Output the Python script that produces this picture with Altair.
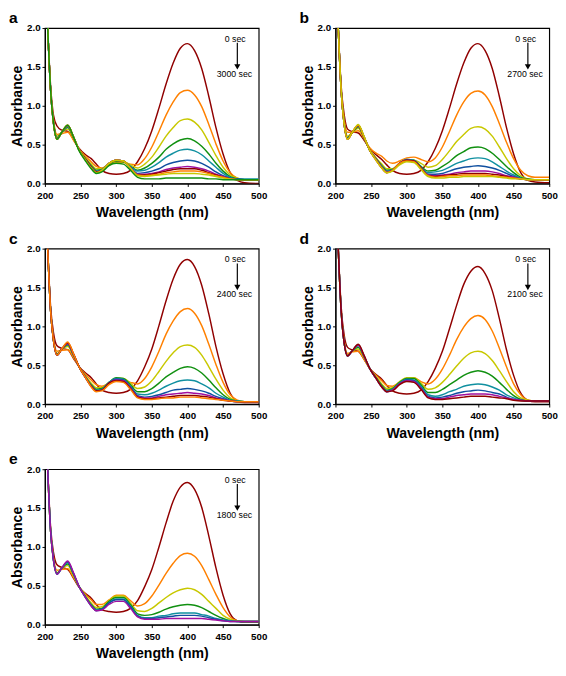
import altair as alt
import pandas as pd

WL = [203, 208, 212, 217, 223, 232, 240, 248, 257, 265, 272, 280, 290, 300, 310,
      320, 330, 340, 350, 360, 370, 380, 390, 400, 410, 420, 430, 440, 450, 460,
      470, 480, 500]

# Curve colour cycle (SigmaPlot-like), time step between spectra in seconds
COLORS = ["#900000", "#FF8000", "#C8C800", "#109010", "#1090A0", "#1050A0", "#A010A0"]
TIME_STEP = 300

LETTERS = ["a", "b", "c", "d", "e"]
START_LABEL = "0 sec"
END_LABELS = ["3000 sec", "2700 sec", "2400 sec", "2100 sec", "1800 sec"]
X_TICKS = [200, 250, 300, 350, 400, 450, 500]
Y_TICKS = [0.0, 0.5, 1.0, 1.5, 2.0]

SPEC_A = [
    [2.2,1.25,0.88,0.74,0.69,0.67,0.57,0.45,0.37,0.32,0.25,0.17,0.13,0.12,0.13,0.17,0.28,0.45,0.68,0.97,1.28,1.55,1.74,1.80,1.71,1.48,1.12,0.72,0.38,0.14,0.04,0.01,0.0],
    [2.2,1.2,0.82,0.63,0.64,0.66,0.56,0.44,0.35,0.28,0.22,0.20,0.24,0.27,0.27,0.25,0.24,0.32,0.47,0.67,0.88,1.05,1.17,1.20,1.14,0.99,0.76,0.51,0.29,0.14,0.07,0.05,0.05],
    [2.2,1.2,0.80,0.61,0.65,0.70,0.58,0.44,0.33,0.25,0.19,0.19,0.25,0.28,0.28,0.24,0.20,0.25,0.34,0.47,0.61,0.72,0.81,0.83,0.79,0.69,0.53,0.36,0.21,0.11,0.07,0.05,0.05],
    [2.2,1.2,0.79,0.59,0.65,0.72,0.59,0.43,0.32,0.23,0.17,0.18,0.25,0.29,0.28,0.22,0.17,0.20,0.26,0.34,0.44,0.51,0.56,0.58,0.55,0.48,0.38,0.26,0.16,0.09,0.06,0.05,0.05],
    [2.2,1.2,0.78,0.58,0.65,0.73,0.60,0.43,0.31,0.22,0.16,0.18,0.26,0.30,0.29,0.22,0.16,0.17,0.21,0.27,0.34,0.39,0.43,0.44,0.42,0.37,0.29,0.21,0.13,0.08,0.06,0.06,0.06],
    [2.2,1.2,0.78,0.58,0.65,0.74,0.60,0.43,0.31,0.21,0.15,0.17,0.26,0.30,0.29,0.21,0.13,0.14,0.16,0.19,0.24,0.27,0.29,0.30,0.29,0.26,0.21,0.15,0.10,0.07,0.06,0.05,0.05],
    [2.2,1.2,0.78,0.57,0.65,0.74,0.60,0.43,0.31,0.21,0.15,0.17,0.26,0.30,0.29,0.20,0.12,0.12,0.13,0.15,0.18,0.20,0.21,0.22,0.21,0.19,0.16,0.12,0.09,0.06,0.05,0.05,0.05],
    [2.2,1.2,0.78,0.57,0.65,0.75,0.60,0.43,0.31,0.21,0.15,0.17,0.26,0.30,0.29,0.20,0.11,0.11,0.12,0.14,0.16,0.18,0.19,0.19,0.19,0.17,0.14,0.11,0.08,0.06,0.05,0.05,0.05],
    [2.2,1.2,0.78,0.57,0.65,0.75,0.60,0.43,0.30,0.20,0.14,0.17,0.26,0.30,0.29,0.20,0.11,0.10,0.11,0.12,0.14,0.15,0.16,0.16,0.16,0.15,0.13,0.10,0.08,0.06,0.05,0.05,0.05],
    [2.2,1.2,0.78,0.57,0.65,0.75,0.60,0.43,0.30,0.20,0.14,0.17,0.26,0.30,0.29,0.20,0.10,0.09,0.10,0.11,0.12,0.13,0.13,0.13,0.13,0.12,0.11,0.09,0.07,0.06,0.05,0.05,0.05],
    [2.2,1.2,0.78,0.57,0.65,0.75,0.60,0.42,0.29,0.19,0.13,0.15,0.23,0.26,0.25,0.17,0.08,0.06,0.06,0.06,0.07,0.07,0.07,0.07,0.07,0.07,0.06,0.06,0.05,0.05,0.05,0.05,0.05],
]

SPEC_B = [
    [2.2,1.25,0.90,0.70,0.67,0.65,0.56,0.45,0.37,0.31,0.24,0.17,0.13,0.12,0.13,0.17,0.28,0.45,0.68,0.97,1.28,1.55,1.74,1.80,1.71,1.48,1.12,0.72,0.38,0.14,0.04,0.02,0.01],
    [2.2,1.2,0.84,0.66,0.66,0.68,0.58,0.46,0.39,0.35,0.29,0.26,0.29,0.33,0.34,0.31,0.28,0.33,0.47,0.67,0.88,1.05,1.16,1.19,1.14,0.99,0.77,0.53,0.32,0.17,0.10,0.08,0.08],
    [2.2,1.2,0.80,0.61,0.65,0.71,0.58,0.44,0.33,0.25,0.19,0.19,0.26,0.30,0.30,0.26,0.21,0.23,0.31,0.42,0.54,0.63,0.71,0.73,0.70,0.61,0.47,0.32,0.19,0.10,0.06,0.05,0.05],
    [2.2,1.2,0.79,0.59,0.65,0.73,0.59,0.43,0.32,0.23,0.17,0.18,0.26,0.31,0.30,0.22,0.16,0.17,0.22,0.28,0.36,0.41,0.46,0.47,0.45,0.39,0.31,0.22,0.14,0.08,0.06,0.05,0.05],
    [2.2,1.2,0.78,0.58,0.65,0.74,0.60,0.43,0.31,0.22,0.16,0.18,0.26,0.31,0.30,0.21,0.14,0.15,0.17,0.21,0.26,0.29,0.32,0.33,0.32,0.28,0.22,0.16,0.11,0.07,0.05,0.05,0.05],
    [2.2,1.2,0.78,0.58,0.65,0.74,0.60,0.43,0.31,0.21,0.15,0.17,0.26,0.30,0.29,0.20,0.12,0.12,0.13,0.16,0.19,0.21,0.22,0.23,0.22,0.20,0.17,0.13,0.09,0.06,0.05,0.05,0.05],
    [2.2,1.2,0.78,0.57,0.65,0.75,0.60,0.43,0.31,0.21,0.15,0.17,0.26,0.30,0.29,0.20,0.11,0.10,0.11,0.12,0.14,0.15,0.16,0.16,0.16,0.15,0.13,0.10,0.08,0.06,0.05,0.05,0.05],
    [2.2,1.2,0.78,0.57,0.65,0.75,0.60,0.43,0.30,0.20,0.14,0.17,0.26,0.30,0.29,0.20,0.10,0.09,0.10,0.11,0.12,0.13,0.13,0.13,0.13,0.12,0.11,0.09,0.07,0.06,0.05,0.05,0.05],
    [2.2,1.2,0.78,0.57,0.65,0.75,0.60,0.43,0.30,0.20,0.14,0.17,0.26,0.29,0.28,0.19,0.10,0.08,0.09,0.10,0.10,0.11,0.11,0.11,0.11,0.10,0.09,0.08,0.07,0.06,0.05,0.05,0.05],
    [2.2,1.2,0.78,0.57,0.65,0.76,0.61,0.43,0.30,0.20,0.14,0.16,0.24,0.28,0.27,0.18,0.09,0.07,0.07,0.08,0.08,0.09,0.09,0.09,0.09,0.09,0.08,0.07,0.06,0.06,0.05,0.05,0.05],
]

SPEC_C = [
    [2.2,1.25,0.92,0.75,0.72,0.70,0.59,0.48,0.40,0.34,0.26,0.18,0.15,0.14,0.15,0.19,0.30,0.48,0.71,1.01,1.33,1.61,1.80,1.86,1.77,1.53,1.16,0.74,0.39,0.14,0.04,0.02,0.02],
    [2.2,1.2,0.85,0.68,0.69,0.70,0.60,0.48,0.38,0.31,0.25,0.23,0.27,0.31,0.31,0.28,0.26,0.33,0.48,0.68,0.90,1.07,1.19,1.23,1.17,1.01,0.77,0.51,0.28,0.12,0.05,0.03,0.03],
    [2.2,1.2,0.83,0.65,0.70,0.74,0.62,0.48,0.36,0.27,0.21,0.21,0.28,0.33,0.33,0.27,0.20,0.22,0.30,0.42,0.55,0.66,0.74,0.76,0.73,0.63,0.48,0.32,0.18,0.08,0.04,0.03,0.03],
    [2.2,1.2,0.82,0.64,0.70,0.76,0.63,0.48,0.35,0.25,0.19,0.20,0.28,0.34,0.33,0.25,0.16,0.16,0.20,0.27,0.35,0.41,0.46,0.48,0.46,0.40,0.31,0.21,0.12,0.06,0.04,0.03,0.03],
    [2.2,1.2,0.82,0.63,0.70,0.77,0.64,0.48,0.35,0.24,0.18,0.19,0.28,0.33,0.32,0.23,0.13,0.12,0.14,0.18,0.23,0.27,0.30,0.31,0.30,0.26,0.21,0.14,0.09,0.05,0.04,0.03,0.03],
    [2.2,1.2,0.82,0.63,0.70,0.78,0.64,0.48,0.34,0.23,0.17,0.18,0.27,0.32,0.31,0.22,0.11,0.09,0.10,0.12,0.15,0.18,0.19,0.20,0.19,0.17,0.14,0.10,0.07,0.04,0.03,0.03,0.03],
    [2.2,1.2,0.82,0.63,0.70,0.78,0.64,0.48,0.34,0.23,0.17,0.18,0.27,0.31,0.30,0.21,0.10,0.08,0.08,0.10,0.12,0.13,0.14,0.15,0.14,0.13,0.11,0.08,0.06,0.04,0.03,0.03,0.03],
    [2.2,1.2,0.82,0.63,0.70,0.79,0.65,0.48,0.34,0.23,0.17,0.18,0.27,0.30,0.29,0.20,0.09,0.07,0.07,0.08,0.09,0.10,0.11,0.11,0.11,0.10,0.09,0.07,0.05,0.04,0.03,0.03,0.03],
    [2.2,1.2,0.82,0.63,0.70,0.80,0.65,0.48,0.34,0.22,0.16,0.17,0.25,0.29,0.28,0.19,0.08,0.06,0.06,0.07,0.08,0.08,0.09,0.09,0.09,0.08,0.07,0.06,0.05,0.04,0.03,0.03,0.03],
]

SPEC_D = [
    [2.2,1.25,0.90,0.73,0.70,0.68,0.58,0.46,0.38,0.32,0.24,0.17,0.14,0.13,0.14,0.18,0.29,0.46,0.68,0.97,1.27,1.54,1.71,1.77,1.68,1.46,1.10,0.70,0.37,0.14,0.05,0.03,0.03],
    [2.2,1.2,0.83,0.65,0.67,0.68,0.58,0.46,0.37,0.30,0.24,0.23,0.28,0.33,0.34,0.29,0.26,0.32,0.45,0.63,0.83,0.99,1.10,1.14,1.09,0.94,0.72,0.48,0.26,0.12,0.05,0.04,0.04],
    [2.2,1.2,0.81,0.63,0.68,0.71,0.60,0.46,0.35,0.26,0.20,0.21,0.29,0.34,0.34,0.27,0.19,0.21,0.28,0.38,0.49,0.59,0.66,0.68,0.65,0.56,0.43,0.29,0.16,0.08,0.05,0.04,0.04],
    [2.2,1.2,0.80,0.62,0.68,0.73,0.61,0.46,0.34,0.24,0.18,0.20,0.28,0.33,0.33,0.25,0.15,0.15,0.19,0.25,0.31,0.37,0.41,0.43,0.41,0.36,0.28,0.19,0.11,0.06,0.04,0.04,0.04],
    [2.2,1.2,0.80,0.62,0.68,0.75,0.62,0.46,0.33,0.23,0.17,0.19,0.27,0.32,0.31,0.23,0.12,0.10,0.12,0.16,0.19,0.23,0.25,0.26,0.25,0.22,0.18,0.12,0.08,0.05,0.04,0.04,0.04],
    [2.2,1.2,0.80,0.62,0.68,0.76,0.62,0.46,0.33,0.22,0.16,0.18,0.26,0.31,0.30,0.21,0.10,0.08,0.09,0.11,0.14,0.16,0.17,0.18,0.17,0.15,0.13,0.09,0.06,0.05,0.04,0.04,0.04],
    [2.2,1.2,0.80,0.62,0.68,0.76,0.62,0.46,0.33,0.22,0.16,0.18,0.26,0.30,0.29,0.20,0.09,0.07,0.07,0.09,0.11,0.12,0.13,0.13,0.13,0.12,0.10,0.08,0.06,0.05,0.04,0.04,0.04],
    [2.2,1.2,0.80,0.62,0.68,0.77,0.63,0.46,0.33,0.22,0.16,0.17,0.25,0.29,0.28,0.19,0.08,0.06,0.06,0.07,0.08,0.09,0.10,0.10,0.10,0.09,0.08,0.07,0.05,0.04,0.04,0.04,0.04],
]

SPEC_E = [
    [2.2,1.25,0.93,0.77,0.74,0.71,0.60,0.48,0.40,0.34,0.26,0.19,0.17,0.16,0.17,0.21,0.31,0.49,0.71,1.00,1.31,1.59,1.77,1.83,1.74,1.51,1.14,0.73,0.38,0.14,0.05,0.03,0.03],
    [2.2,1.2,0.86,0.70,0.71,0.72,0.61,0.49,0.39,0.32,0.26,0.26,0.32,0.38,0.38,0.31,0.24,0.27,0.37,0.51,0.66,0.79,0.89,0.92,0.88,0.76,0.58,0.39,0.22,0.10,0.05,0.04,0.04],
    [2.2,1.2,0.84,0.67,0.72,0.76,0.63,0.49,0.37,0.28,0.22,0.23,0.31,0.37,0.37,0.28,0.18,0.17,0.21,0.28,0.35,0.41,0.45,0.47,0.45,0.39,0.30,0.21,0.12,0.07,0.05,0.04,0.04],
    [2.2,1.2,0.83,0.66,0.72,0.78,0.65,0.49,0.36,0.26,0.20,0.21,0.30,0.35,0.35,0.26,0.14,0.12,0.13,0.16,0.20,0.23,0.25,0.26,0.25,0.22,0.17,0.12,0.08,0.05,0.04,0.04,0.04],
    [2.2,1.2,0.83,0.65,0.72,0.80,0.66,0.49,0.35,0.25,0.19,0.20,0.28,0.33,0.33,0.24,0.12,0.09,0.09,0.11,0.12,0.14,0.15,0.15,0.15,0.13,0.11,0.08,0.06,0.05,0.04,0.04,0.04],
    [2.2,1.2,0.83,0.65,0.72,0.81,0.66,0.49,0.35,0.24,0.18,0.20,0.28,0.32,0.32,0.23,0.11,0.08,0.08,0.09,0.10,0.11,0.12,0.12,0.12,0.11,0.09,0.07,0.05,0.04,0.04,0.04,0.04],
    [2.2,1.2,0.83,0.65,0.72,0.82,0.67,0.49,0.35,0.24,0.18,0.19,0.26,0.30,0.30,0.21,0.10,0.07,0.07,0.07,0.08,0.08,0.08,0.08,0.08,0.08,0.07,0.06,0.05,0.04,0.04,0.04,0.04],
]

ALL_SPECTRA = [SPEC_A, SPEC_B, SPEC_C, SPEC_D, SPEC_E]

FONT = "Liberation Sans"
W, H = 220, 160

X_ENC = alt.X("wl:Q", scale=alt.Scale(domain=[200, 500], nice=False),
              axis=alt.Axis(values=X_TICKS, title="Wavelength (nm)", labelOverlap=False,
                            labelFlush=False, tickCount=7))
Y_ENC = alt.Y("absorb:Q", scale=alt.Scale(domain=[0, 2], nice=False),
              axis=alt.Axis(values=Y_TICKS, format=".1f", title="Absorbance",
                            labelOverlap=False, labelFlush=False, tickCount=5))


def make_panel(letter, spectra, end_label):
    rows = []
    names = []
    for i, spec in enumerate(spectra):
        name = f"{i * TIME_STEP:04d} sec"
        names.append(name)
        for w, v in zip(WL, spec):
            rows.append({"wl": w, "absorb": v, "curve": name})
    df = pd.DataFrame(rows)
    rng = [COLORS[i % len(COLORS)] for i in range(len(spectra))]

    lines = alt.Chart(df).mark_line(clip=True, interpolate="monotone", strokeWidth=1.5).encode(
        x=X_ENC, y=Y_ENC,
        color=alt.Color("curve:N", scale=alt.Scale(domain=names, range=rng), legend=None),
    )

    ann = pd.DataFrame({"wl": [467, 466], "absorb": [1.86, 1.41], "label": [START_LABEL, end_label]})
    texts = alt.Chart(ann).mark_text(fontSize=9, font=FONT, color="black").encode(
        x=X_ENC, y=Y_ENC, text="label:N")

    arrow = pd.DataFrame({"wl": [470], "absorb": [1.81], "absorb_end": [1.50]})
    shaft = alt.Chart(arrow).mark_rule(color="black", strokeWidth=1.2).encode(
        x=X_ENC, y=Y_ENC, y2="absorb_end:Q")
    head_df = pd.DataFrame({"wl": [470], "absorb": [1.50]})
    head = alt.Chart(head_df).mark_point(shape="triangle-down", filled=True, size=40,
                                         color="black", opacity=1).encode(x=X_ENC, y=Y_ENC)

    lab = alt.Chart(pd.DataFrame({"t": [letter]})).mark_text(
        align="left", baseline="alphabetic", fontSize=16, fontWeight="bold", font=FONT,
        color="black").encode(x=alt.value(-37), y=alt.value(-5), text="t:N")

    return alt.layer(lines, shaft, head, texts, lab).properties(width=W, height=H)


panels = [make_panel(l, s, e) for l, s, e in zip(LETTERS, ALL_SPECTRA, END_LABELS)]

chart = alt.concat(*panels, columns=2, spacing={"row": 10, "column": 32}).properties(
    padding={"left": 0, "top": -8, "right": 0, "bottom": 0}
).configure_view(stroke="black", strokeWidth=1.2).configure_axis(
    grid=False, labelOverlap=False, labelFlush=False,
    domainColor="black", domainWidth=1.2,
    tickColor="black", tickSize=3,
    labelFont=FONT, labelFontSize=10, labelFontWeight="bold", labelColor="black", labelPadding=2,
    titleFont=FONT, titleFontSize=14.5, titleFontWeight="bold", titleColor="black",
).configure_axisX(titlePadding=6, labelPadding=4).configure_axisY(titlePadding=2)

chart.save("out.html", embed_options={"renderer": "svg", "actions": False})
